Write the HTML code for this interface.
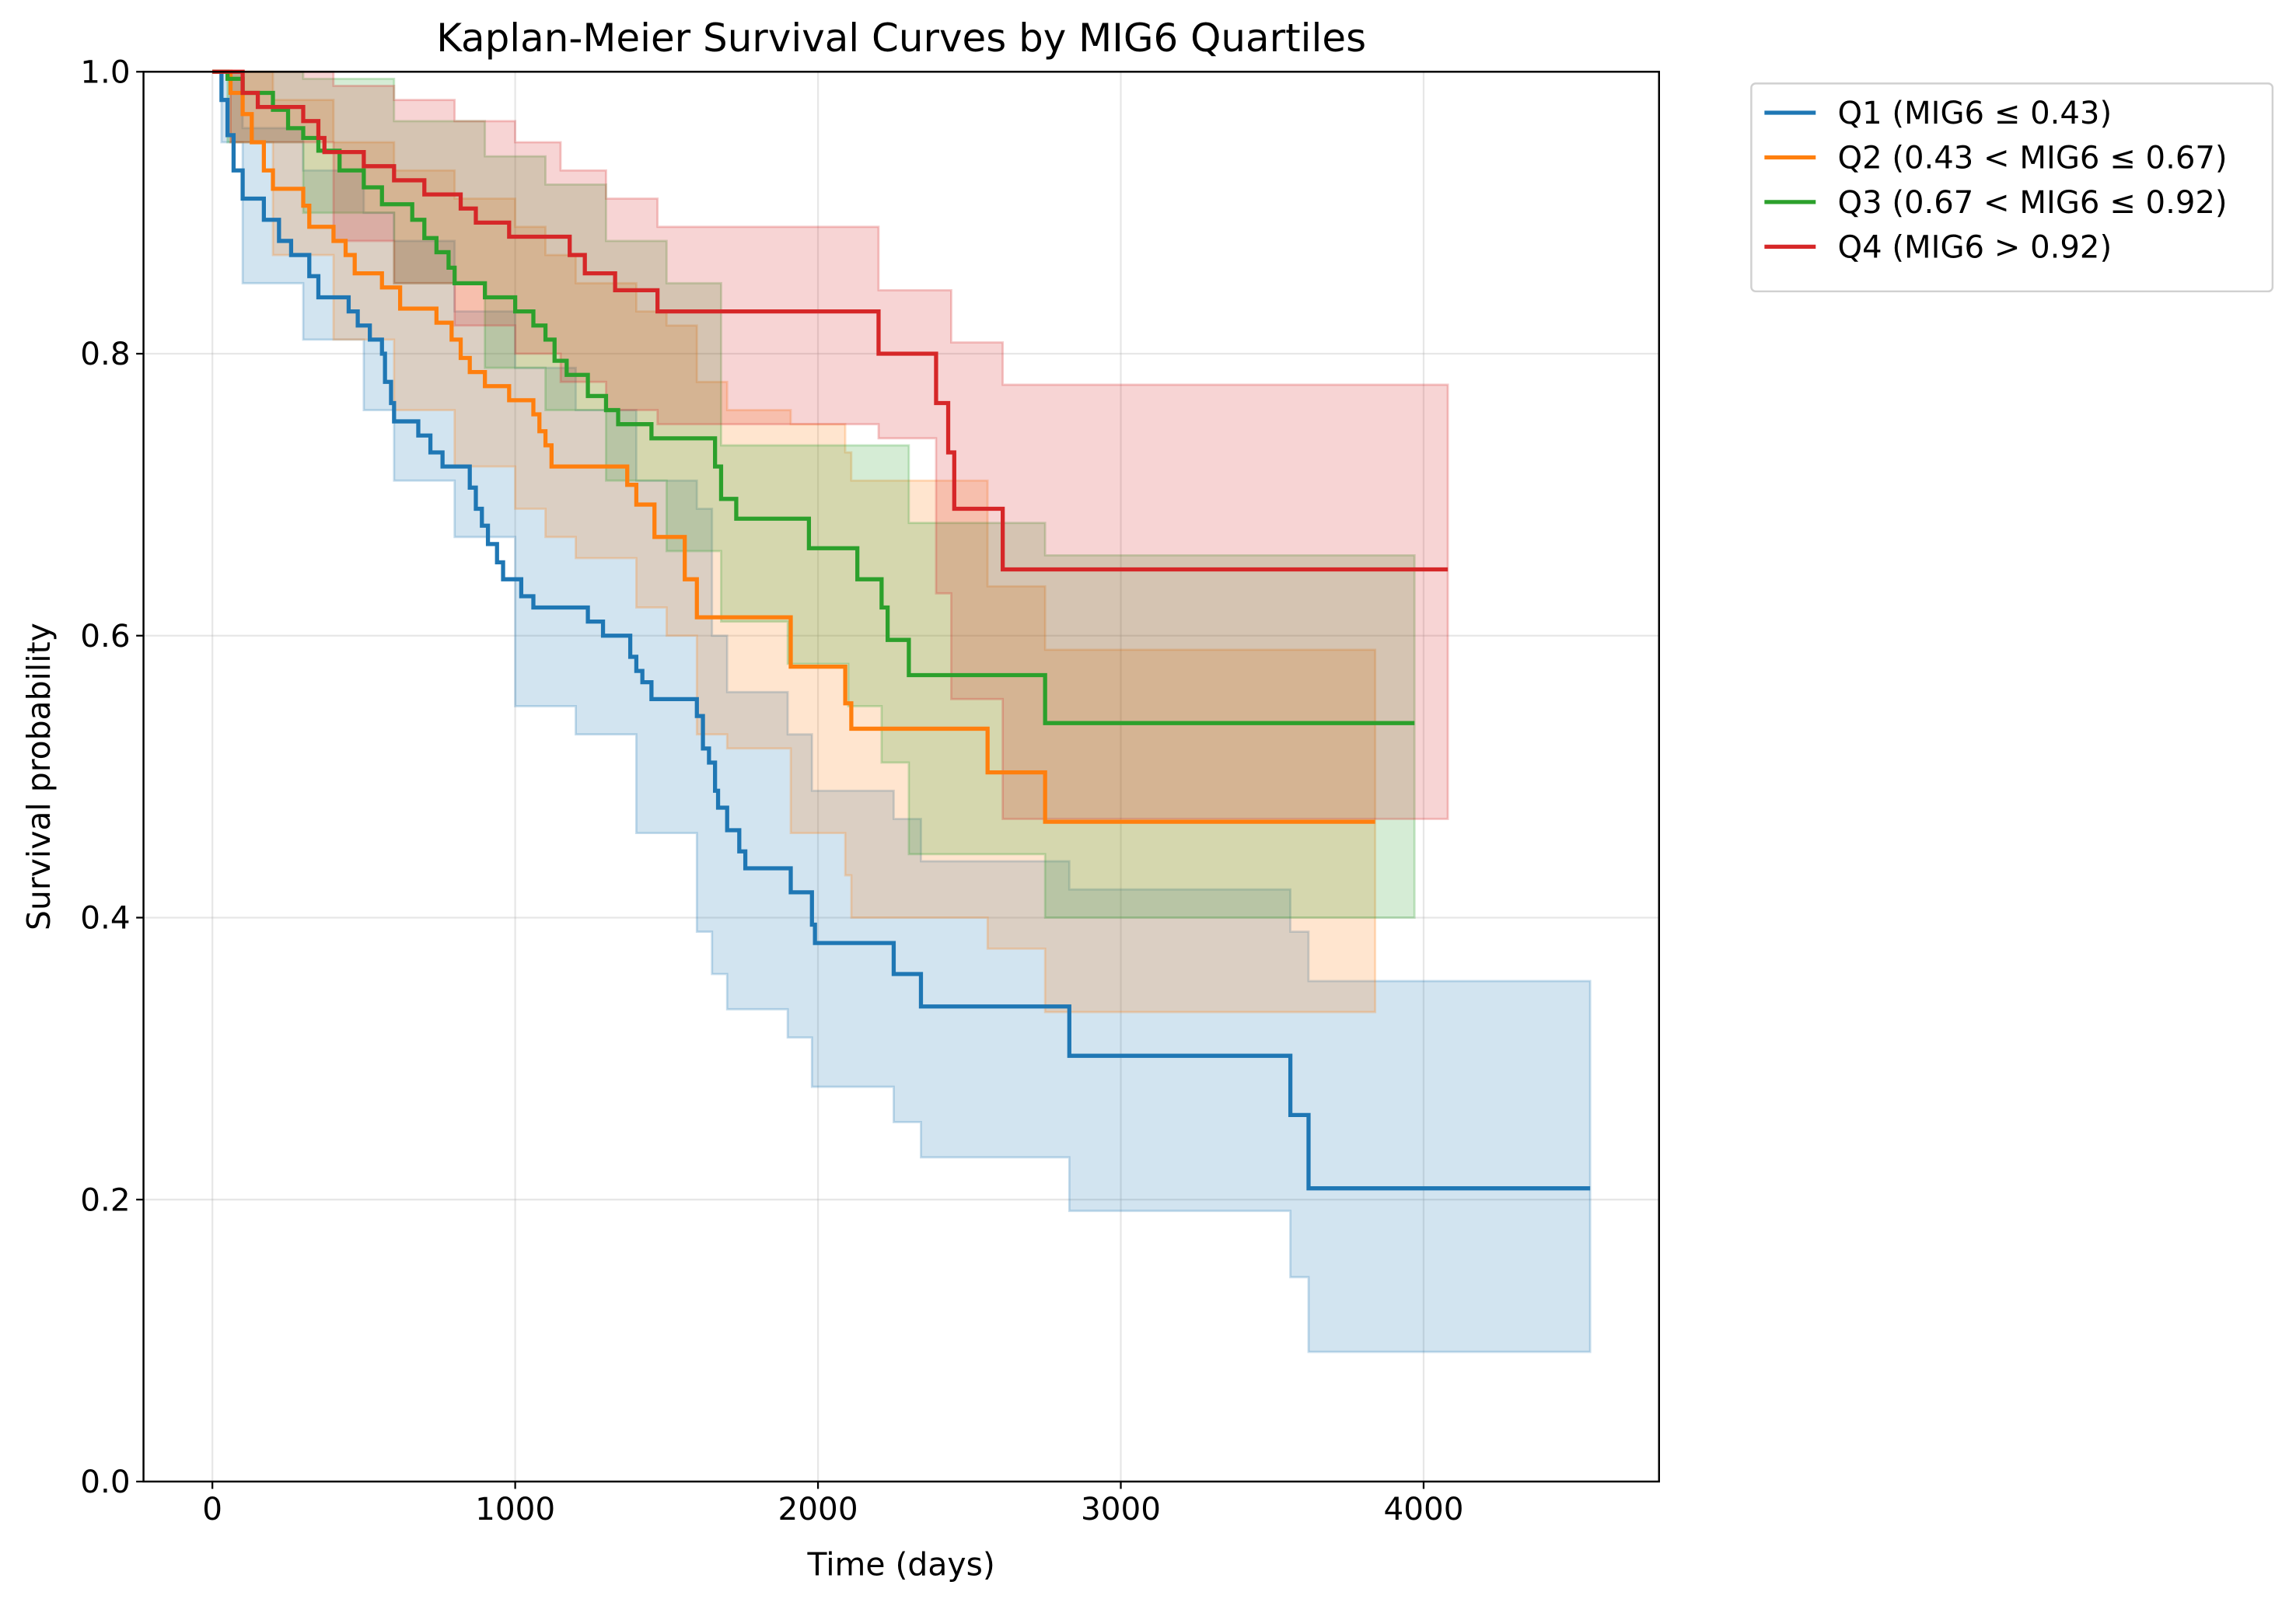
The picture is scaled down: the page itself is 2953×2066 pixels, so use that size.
<!DOCTYPE html>
<html><head><meta charset="utf-8"><style>
html,body{margin:0;padding:0;background:#fff;}
svg{display:block;font-family:"DejaVu Sans","Liberation Sans",sans-serif;}
</style></head><body>
<svg id="chart" width="2953" height="2066" viewBox="0 0 1568 1097" xmlns="http://www.w3.org/2000/svg">
<rect x="0" y="0" width="1568" height="1097" fill="#fff"/>
<g id="grid"></g>
<g id="bands"></g>
<g id="lines"></g>
<rect x="98" y="49" width="1035" height="963" fill="none" stroke="#000" stroke-width="1.3"/>
<g id="ticks"></g>
<text x="615.5" y="35" font-size="26.5" text-anchor="middle">Kaplan-Meier Survival Curves by MIG6 Quartiles</text>
<text x="615.5" y="1076" font-size="21.7" text-anchor="middle">Time (days)</text>
<text transform="translate(34,530.5) rotate(-90)" font-size="21.7" text-anchor="middle">Survival probability</text>
<g id="legend">
<rect x="1196" y="57" width="356" height="142" rx="3" fill="#fff" stroke="#d0d0d0" stroke-width="1.3"/>
</g>
</svg>
<script>
const seriesNames = ["Q1 (MIG6 \u2264 0.43)","Q2 (0.43 < MIG6 \u2264 0.67)","Q3 (0.67 < MIG6 \u2264 0.92)","Q4 (MIG6 > 0.92)"];
const colors = ["#1f77b4","#ff7f0e","#2ca02c","#d62728"];
const xTicks = [0,1000,2000,3000,4000];
const yTicks = [0.0,0.2,0.4,0.6,0.8,1.0];

const q1Times = [0,30,50,70,100,170,220,260,320,350,450,480,520,560,570,590,600,680,720,760,850,870,890,910,940,960,1020,1060,1240,1290,1380,1400,1420,1450,1600,1620,1640,1660,1670,1700,1740,1760,1910,1980,1990,2250,2340,2830,3560,3620,4550];
const q1Surv = [1.0,0.98,0.955,0.93,0.91,0.895,0.88,0.87,0.855,0.84,0.83,0.82,0.81,0.80,0.78,0.765,0.752,0.742,0.73,0.72,0.705,0.69,0.678,0.665,0.652,0.64,0.628,0.62,0.61,0.60,0.585,0.575,0.567,0.555,0.543,0.52,0.51,0.49,0.478,0.462,0.447,0.435,0.418,0.395,0.382,0.36,0.337,0.302,0.26,0.208,0.208];
const q1CiTimes = [0,30,100,300,500,600,800,1000,1200,1400,1600,1650,1700,1900,1980,2250,2340,2830,3560,3620,4550];
const q1Upper = [1.0,1.0,0.96,0.93,0.90,0.88,0.83,0.79,0.76,0.71,0.69,0.60,0.56,0.53,0.49,0.47,0.44,0.42,0.39,0.355,0.355];
const q1Lower = [1.0,0.95,0.85,0.81,0.76,0.71,0.67,0.55,0.53,0.46,0.39,0.36,0.335,0.315,0.28,0.255,0.23,0.192,0.145,0.092,0.092];

const q2Times = [0,60,100,130,170,200,300,320,400,440,470,560,620,740,790,820,850,900,980,1060,1080,1100,1120,1370,1400,1460,1560,1600,1910,2090,2110,2560,2750,3840];
const q2Surv = [1.0,0.985,0.97,0.95,0.93,0.917,0.905,0.89,0.88,0.87,0.857,0.847,0.832,0.822,0.81,0.797,0.787,0.777,0.767,0.757,0.745,0.735,0.72,0.707,0.693,0.67,0.64,0.613,0.578,0.552,0.534,0.503,0.468,0.468];
const q2CiTimes = [0,60,200,400,600,800,1000,1100,1200,1400,1500,1600,1700,1910,2090,2110,2560,2750,3840];
const q2Upper = [1.0,1.0,0.98,0.95,0.93,0.91,0.89,0.87,0.85,0.83,0.82,0.78,0.76,0.75,0.73,0.71,0.635,0.59,0.59];
const q2Lower = [1.0,0.95,0.87,0.81,0.76,0.72,0.69,0.67,0.655,0.62,0.60,0.53,0.52,0.46,0.43,0.40,0.378,0.333,0.333];

const q3Times = [0,50,100,200,250,300,350,420,500,560,660,700,740,780,800,900,1000,1060,1100,1130,1170,1240,1300,1340,1450,1660,1680,1730,1970,2130,2210,2230,2300,2750,3970];
const q3Surv = [1.0,0.995,0.985,0.973,0.96,0.953,0.944,0.93,0.918,0.906,0.895,0.882,0.872,0.861,0.85,0.84,0.83,0.82,0.81,0.795,0.785,0.77,0.76,0.75,0.74,0.72,0.697,0.683,0.662,0.64,0.62,0.597,0.572,0.538,0.538];
const q3CiTimes = [0,50,300,600,900,1100,1300,1500,1680,1900,2100,2210,2300,2750,3970];
const q3Upper = [1.0,1.0,0.995,0.965,0.94,0.92,0.88,0.85,0.735,0.735,0.735,0.735,0.68,0.657,0.657];
const q3Lower = [1.0,0.95,0.90,0.85,0.79,0.76,0.71,0.66,0.61,0.58,0.55,0.51,0.445,0.40,0.40];

const q4Times = [0,100,150,300,350,370,500,600,700,820,870,980,1180,1230,1330,1470,2200,2390,2430,2450,2610,4080];
const q4Surv = [1.0,0.985,0.975,0.965,0.953,0.943,0.933,0.923,0.913,0.903,0.893,0.883,0.87,0.857,0.845,0.83,0.80,0.765,0.73,0.69,0.647,0.647];
const q4CiTimes = [0,60,400,600,800,1000,1150,1300,1470,2200,2390,2440,2610,4080];
const q4Upper = [1.0,1.0,0.99,0.98,0.965,0.95,0.93,0.91,0.89,0.845,0.845,0.808,0.778,0.778];
const q4Lower = [1.0,0.95,0.88,0.85,0.82,0.80,0.78,0.76,0.75,0.74,0.63,0.555,0.47,0.47];

const allSeries = [
 {t:q1Times,s:q1Surv,ct:q1CiTimes,u:q1Upper,l:q1Lower},
 {t:q2Times,s:q2Surv,ct:q2CiTimes,u:q2Upper,l:q2Lower},
 {t:q3Times,s:q3Surv,ct:q3CiTimes,u:q3Upper,l:q3Lower},
 {t:q4Times,s:q4Surv,ct:q4CiTimes,u:q4Upper,l:q4Lower}
];

const X0=98,X1=1133,Y0=1012,Y1=49;
const xMin=-227.5,xMax=4777.5;
function xs(v){return X0+(v-xMin)/(xMax-xMin)*(X1-X0);}
function ys(v){return Y0-(v-0)/(1-0)*(Y0-Y1);}
const NS="http://www.w3.org/2000/svg";
function mk(tag,attrs,parent){const e=document.createElementNS(NS,tag);for(const k in attrs)e.setAttribute(k,attrs[k]);parent.appendChild(e);return e;}

const grid=document.getElementById('grid'),ticks=document.getElementById('ticks');
xTicks.forEach(v=>{
 const gl=mk('line',{x1:xs(v),x2:xs(v),y1:Y1,y2:Y0,stroke:'#b0b0b0','stroke-opacity':0.3,'stroke-width':1.2},grid);
 
 
 const tk=mk('line',{x1:xs(v),x2:xs(v),y1:Y0,y2:Y0+5,stroke:'#000','stroke-width':1.2},ticks);
 
 
 const tx=mk('text',{x:xs(v),y:Y0+26,'font-size':21.5,'text-anchor':'middle'},ticks);
 tx.textContent=v;
 
 
});
yTicks.forEach(v=>{
 const gl=mk('line',{x1:X0,x2:X1,y1:ys(v),y2:ys(v),stroke:'#b0b0b0','stroke-opacity':0.3,'stroke-width':1.2},grid);
 
 
 const tk=mk('line',{x1:X0-5,x2:X0,y1:ys(v),y2:ys(v),stroke:'#000','stroke-width':1.2},ticks);
 
 
 const tx=mk('text',{x:X0-9,y:ys(v)+7.5,'font-size':21.5,'text-anchor':'end'},ticks);
 tx.textContent=v.toFixed(1);
 
 
});

function stepPts(t,s){const p=[];for(let i=0;i<t.length;i++){if(i>0)p.push([xs(t[i]),ys(s[i-1])]);p.push([xs(t[i]),ys(s[i])]);}return p;}
const bands=document.getElementById('bands'),lines=document.getElementById('lines');
allSeries.forEach((S,i)=>{
 const up=stepPts(S.ct,S.u), lo=stepPts(S.ct,S.l).reverse();
 const pts=up.concat(lo).map(p=>p[0].toFixed(2)+','+p[1].toFixed(2)).join(' ');
 const b=mk('polygon',{points:pts,fill:colors[i],'fill-opacity':0.2,stroke:colors[i],'stroke-opacity':0.25,'stroke-width':1.5},bands);
 
 
});
allSeries.forEach((S,i)=>{
 const p=stepPts(S.t,S.s).map(p=>p[0].toFixed(2)+','+p[1].toFixed(2)).join(' ');
 const l=mk('polyline',{points:p,fill:'none',stroke:colors[i],'stroke-width':2.8},lines);
 
 
});
const lg=document.getElementById('legend');
seriesNames.forEach((n,i)=>{
 const y=77+i*30.5;
 const ll=mk('line',{x1:1205,x2:1240,y1:y,y2:y,stroke:colors[i],'stroke-width':2.8},lg);
 
 
 const tx=mk('text',{x:1255,y:y+7.5,'font-size':21.3},lg);
 tx.textContent=n;
 
 
});
</script>
</body></html>
